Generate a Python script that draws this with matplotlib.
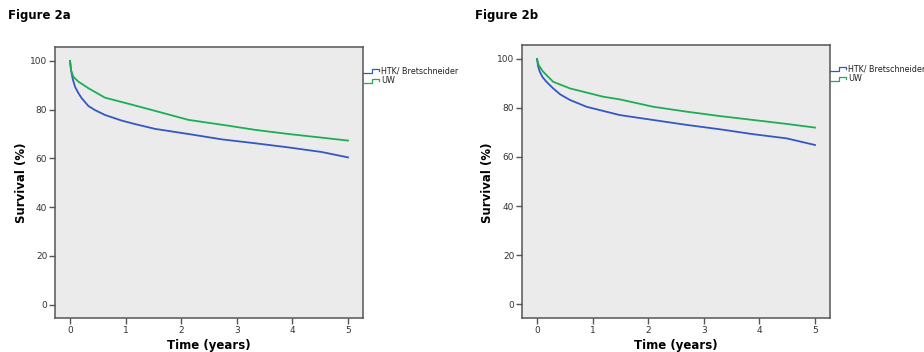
import matplotlib
matplotlib.use("Agg")
import matplotlib.pyplot as plt
from matplotlib.lines import Line2D

# ---- data ----
time_a_htk = [0.0, 0.02, 0.05, 0.09, 0.15, 0.21, 0.33, 0.45, 0.63, 0.93, 1.2, 1.53, 2.13, 2.73, 3.33, 3.93, 4.53, 5.0]
surv_a_htk = [100, 96.0, 92.5, 89.4, 86.8, 84.7, 81.5, 79.8, 77.8, 75.5, 73.9, 72.1, 70.0, 67.8, 66.2, 64.5, 62.6, 60.4]
time_a_uw = [0.0, 0.02, 0.06, 0.15, 0.33, 0.63, 1.02, 1.53, 2.13, 2.85, 3.33, 3.93, 4.53, 5.0]
surv_a_uw = [100, 96.0, 93.5, 91.5, 88.8, 84.9, 82.6, 79.5, 75.8, 73.4, 71.7, 70.0, 68.5, 67.3]

time_b_htk = [0.0, 0.02, 0.05, 0.1, 0.17, 0.29, 0.42, 0.59, 0.89, 1.49, 2.09, 2.69, 3.29, 3.89, 4.49, 5.0]
surv_b_htk = [100, 97.0, 94.8, 92.6, 90.7, 88.0, 85.5, 83.3, 80.5, 77.1, 75.1, 73.1, 71.3, 69.3, 67.6, 64.9]
time_b_uw = [0.0, 0.03, 0.11, 0.29, 0.59, 1.19, 1.49, 2.09, 2.69, 3.29, 3.89, 4.49, 5.0]
surv_b_uw = [100, 97.5, 94.8, 90.7, 88.0, 84.6, 83.5, 80.5, 78.5, 76.7, 75.1, 73.5, 72.0]

group_labels = ["HTK/ Bretschneider", "UW"]
x_ticks = [0, 1, 2, 3, 4, 5]
y_ticks = [0, 20, 40, 60, 80, 100]
panel_titles = ["Figure 2a", "Figure 2b"]

BLUE = "#3358c4"
GREEN = "#1dae55"
BG = "#ebebeb"
SPINE = "#555555"

W, H = 924, 352
fig = plt.figure(figsize=(W / 100, H / 100), dpi=100)

panels = [
    dict(rect=[55, 47, 363, 318], ylim=(-5.5, 105.7),
         htk=(time_a_htk, surv_a_htk), uw=(time_a_uw, surv_a_uw),
         title_xy=(8, 15), ylab_x=22, xlab_x=209, leg_x=363, leg_y=71),
    dict(rect=[522, 45, 830, 318], ylim=(-5.7, 105.7),
         htk=(time_b_htk, surv_b_htk), uw=(time_b_uw, surv_b_uw),
         title_xy=(475, 15), ylab_x=488, xlab_x=676, leg_x=830, leg_y=69),
]

for p, title in zip(panels, panel_titles):
    l, t, r, b = p["rect"]
    ax = fig.add_axes([l / W, 1 - b / H, (r - l) / W, (b - t) / H])
    ax.set_facecolor(BG)
    ax.plot(*p["htk"], color=BLUE, lw=1.3)
    ax.plot(*p["uw"], color=GREEN, lw=1.3)
    ax.set_xlim(-0.27, 5.27)
    ax.set_ylim(*p["ylim"])
    ax.set_xticks(x_ticks)
    ax.set_yticks(y_ticks)
    ax.tick_params(direction="out", length=4, width=1, color=SPINE,
                   labelsize=6.5, labelcolor="#333333", pad=1.5)
    for s in ax.spines.values():
        s.set_color(SPINE)
        s.set_linewidth(1.1)

    # axis labels
    fig.text(p["xlab_x"] / W, 1 - 345 / H, "Time (years)", fontsize=8.5,
             fontweight="bold", ha="center", va="center")
    fig.text(p["ylab_x"] / W, 1 - 183 / H, "Survival (%)", fontsize=8.5,
             fontweight="bold", ha="center", va="center", rotation=90)

    # panel title
    fig.text(p["title_xy"][0] / W, 1 - p["title_xy"][1] / H, title,
             fontsize=8.5, fontweight="bold", va="center", ha="left")

    # legend with step-shaped symbols outside the right edge
    lx = p["leg_x"]
    for i, (lab, col) in enumerate(zip(group_labels, [BLUE, GREEN])):
        yc = p["leg_y"] + 9.5 * i
        xs = [lx, lx + 9, lx + 9, lx + 16, lx + 16]
        ys = [yc + 2, yc + 2, yc - 2, yc - 2, yc]
        fig.add_artist(Line2D([x / W for x in xs], [1 - y / H for y in ys],
                              color=col, lw=0.9, transform=fig.transFigure))
        fig.text((lx + 18) / W, 1 - yc / H, lab, fontsize=5.8,
                 va="center", ha="left", color="#222222")

fig.savefig("out.png", dpi=100)
